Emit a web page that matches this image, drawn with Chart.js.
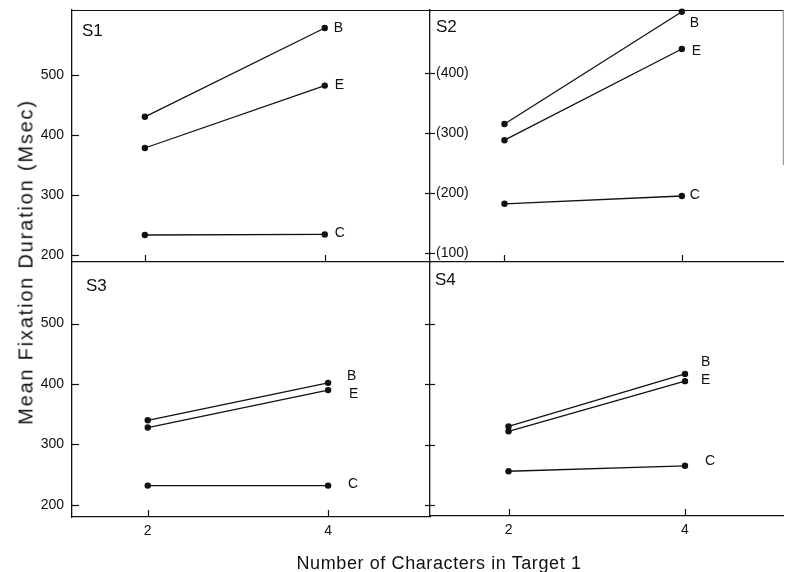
<!DOCTYPE html>
<html>
<head>
<meta charset="utf-8">
<script src="https://cdn.jsdelivr.net/npm/chart.js@4/dist/chart.umd.min.js"></script>
<style>
  html, body { margin: 0; padding: 0; background: #fff; }
  #wrap { position: relative; width: 787px; height: 572px; overflow: hidden; background: #fff;
          font-family: "Liberation Sans", Arial, Helvetica, sans-serif; color: #111; }
  #wrap canvas { position: absolute; left: 0; top: 0; }
  .ytitle { position: absolute; left: 26px; top: 262px; white-space: nowrap; font-size: 20px;
            letter-spacing: 1.8px; transform: translate(-50%, -50%) rotate(-90deg); }
  .xtitle { position: absolute; left: 439px; top: 563px; white-space: nowrap; font-size: 18px;
            letter-spacing: 0.6px; transform: translate(-50%, -50%); }
</style>
</head>
<body>
<div id="wrap">
  <canvas id="c1" width="787" height="572"></canvas>
  <canvas id="c2" width="787" height="572"></canvas>
  <canvas id="c3" width="787" height="572"></canvas>
  <canvas id="c4" width="787" height="572"></canvas>
  <div class="ytitle">Mean Fixation Duration (Msec)</div>
  <div class="xtitle">Number of Characters in Target 1</div>
</div>
<script>
// ---------------- data ----------------
const xCategories = [2, 4];
const seriesNames = ['B', 'E', 'C'];
const panelNames = ['S1', 'S2', 'S3', 'S4'];

const s1B = [430, 578];
const s1E = [378, 482];
const s1C = [233, 234];

const s2B = [315, 502];
const s2E = [288, 440];
const s2C = [182, 195];

const s3B = [340, 402];
const s3E = [328, 390];
const s3C = [232, 232];

const s4B = [330, 417];
const s4E = [322, 405];
const s4C = [256, 265];

const yTicksMain = [200, 300, 400, 500];
const yTicksS2 = [100, 200, 300, 400];

// ---------------- layout / style ----------------
const W = 787, H = 572;
const INK = '#111';
const FONT = '"Liberation Sans", Arial, Helvetica, sans-serif';
Chart.defaults.font.family = FONT;
Chart.defaults.color = INK;

const panels = [
  { id: 'c1', name: panelNames[0], values: [s1B, s1E, s1C],
    area: { left: 72, top: 10, right: 430, bottom: 262 }, xr: [1.19, 5.17], yr: [188, 608],
    yTicks: yTicksMain, yLabels: 'plain', yTickStyle: 'inner', showX: false,
    nameXY: [82, 31], offs: [[9, 0], [10, 0], [10, -1]], topBorder: true },
  { id: 'c2', name: panelNames[1], values: [s2B, s2E, s2C],
    area: { left: 430, top: 10, right: 785, bottom: 262 }, xr: [1.16, 5.15], yr: [85, 505],
    yTicks: yTicksS2, yLabels: 'paren', yTickStyle: 'cross', showX: false,
    nameXY: [436, 27], offs: [[8, 11], [10, 2], [8, -1]], topBorder: true, rightBorder: 165 },
  { id: 'c3', name: panelNames[2], values: [s3B, s3E, s3C],
    area: { left: 72, top: 262, right: 430, bottom: 517 }, xr: [1.16, 5.13], yr: [180, 602],
    yTicks: yTicksMain, yLabels: 'plain', yTickStyle: 'inner', showX: true,
    nameXY: [86, 286], offs: [[19, -7], [21, 4], [20, -1]] },
  { id: 'c4', name: panelNames[3], values: [s4B, s4E, s4C],
    area: { left: 430, top: 262, right: 787, bottom: 516 }, xr: [1.11, 5.12], yr: [182, 602],
    yTicks: yTicksMain, yLabels: 'none', yTickStyle: 'cross', showX: true,
    nameXY: [435, 280], offs: [[16, -12], [16, -1], [20, -5]] }
];

const decor = {
  id: 'decor',
  afterDraw(chart, args, p) {
    const ctx = chart.ctx;
    const ca = chart.chartArea;
    const xs = chart.scales.x, ys = chart.scales.y;
    ctx.save();
    ctx.strokeStyle = INK;
    ctx.lineWidth = 1.2;
    // y tick marks
    p.yTicks.forEach(v => {
      const y = Math.round(ys.getPixelForValue(v)) + 0.5;
      ctx.beginPath();
      if (p.yTickStyle === 'cross') { ctx.moveTo(ca.left - 5, y); ctx.lineTo(ca.left + 5, y); }
      else { ctx.moveTo(ca.left, y); ctx.lineTo(ca.left + 7, y); }
      ctx.stroke();
    });
    // x tick marks (inward from the bottom)
    xCategories.forEach(v => {
      const x = Math.round(xs.getPixelForValue(v)) + 0.5;
      ctx.beginPath(); ctx.moveTo(x, ca.bottom); ctx.lineTo(x, ca.bottom - 7); ctx.stroke();
    });
    if (p.topBorder) {
      ctx.beginPath(); ctx.moveTo(ca.left, ca.top + 0.5); ctx.lineTo(ca.right, ca.top + 0.5); ctx.stroke();
    }
    if (p.rightBorder) {
      ctx.strokeStyle = '#888'; ctx.lineWidth = 1;
      ctx.beginPath(); ctx.moveTo(ca.right - 0.5, ca.top); ctx.lineTo(ca.right - 0.5, p.rightBorder); ctx.stroke();
    }
    // panel name
    ctx.fillStyle = INK;
    ctx.font = '17px ' + FONT;
    ctx.textAlign = 'left'; ctx.textBaseline = 'middle';
    ctx.fillText(p.name, p.nameXY[0], p.nameXY[1]);
    // series end labels
    ctx.font = '14px ' + FONT;
    chart.data.datasets.forEach((ds, i) => {
      const meta = chart.getDatasetMeta(i);
      const pt = meta.data[meta.data.length - 1];
      ctx.fillText(ds.label, pt.x + p.offs[i][0], pt.y + p.offs[i][1]);
    });
    ctx.restore();
  }
};

function makePanel(p) {
  const isLeft = p.yLabels === 'plain';
  const yWidth = isLeft ? p.area.left : 0;
  const xHeight = p.showX ? 22 : 0;
  const zeroPad = s => { s.paddingTop = 0; s.paddingBottom = 0; s.paddingLeft = 0; s.paddingRight = 0; };
  new Chart(document.getElementById(p.id), {
    type: 'line',
    data: {
      datasets: seriesNames.map((n, i) => ({
        label: n,
        data: xCategories.map((x, j) => ({ x: x, y: p.values[i][j] })),
        borderColor: INK, backgroundColor: INK, borderWidth: 1.3,
        pointRadius: 3.2, pointHoverRadius: 3.2, pointBorderWidth: 0,
        tension: 0, clip: false
      }))
    },
    options: {
      responsive: false, animation: false, events: [],
      layout: { padding: {
        left: isLeft ? 0 : p.area.left,
        top: p.area.top,
        right: W - p.area.right,
        bottom: H - p.area.bottom - xHeight } },
      plugins: { legend: { display: false }, tooltip: { enabled: false }, decor: p },
      scales: {
        x: {
          type: 'linear', min: p.xr[0], max: p.xr[1],
          afterBuildTicks: s => { s.ticks = xCategories.map(v => ({ value: v })); },
          afterFit: s => { s.height = xHeight; zeroPad(s); },
          grid: { display: false, drawTicks: false },
          border: { display: true, color: INK, width: 1.3 },
          ticks: { display: p.showX, padding: 6, font: { size: 14 }, color: INK }
        },
        y: {
          type: 'linear', min: p.yr[0], max: p.yr[1],
          afterBuildTicks: s => { s.ticks = p.yTicks.map(v => ({ value: v })); },
          afterFit: s => { s.width = yWidth; zeroPad(s); },
          grid: { display: false, drawTicks: false },
          border: { display: true, color: INK, width: 1.3 },
          ticks: {
            display: p.yLabels !== 'none',
            mirror: p.yLabels === 'paren',
            padding: p.yLabels === 'paren' ? 6 : 8,
            font: { size: 14 }, color: INK,
            callback: v => p.yLabels === 'paren' ? '(' + v + ')' : String(v)
          }
        }
      }
    },
    plugins: [decor]
  });
}

panels.forEach(makePanel);
</script>
</body>
</html>
